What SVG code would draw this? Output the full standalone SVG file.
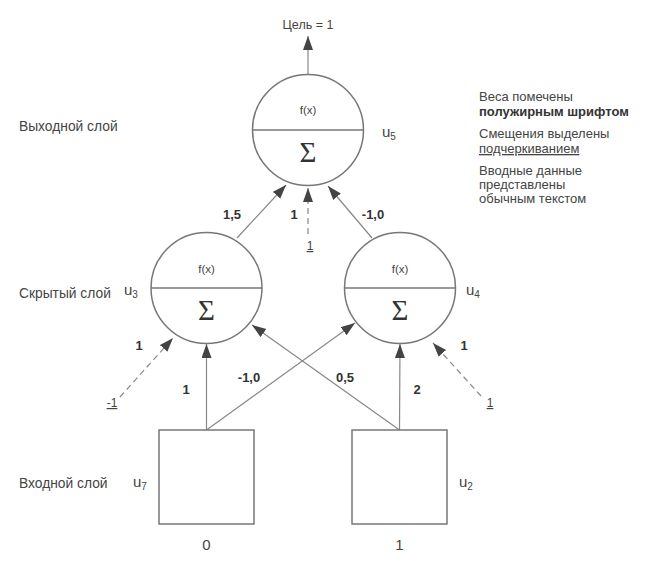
<svg xmlns="http://www.w3.org/2000/svg" width="647" height="563" viewBox="0 0 647 563">
<style>
text{font-family:"Liberation Sans",Arial,sans-serif;fill:#444}
.lbl{font-size:13px}
.ll{font-size:13.8px}
.w{font-size:13px;font-weight:bold;fill:#333}
.b{font-size:12px;text-decoration:underline}
.fx{font-size:11.5px}
.sig{font-family:"Liberation Serif","Times New Roman",serif;font-size:29px;fill:#333}
.u{font-size:15px}
.node{fill:#fff;stroke:#777;stroke-width:1.5}
.div{stroke:#777;stroke-width:1.5}
.c{stroke:#888;stroke-width:1.2;fill:none}
.d{stroke:#888;stroke-width:1.2;fill:none;stroke-dasharray:6,4}
</style>
<defs>
<marker id="ah" markerUnits="userSpaceOnUse" markerWidth="15" markerHeight="11" refX="14" refY="5" orient="auto">
<path d="M0,0 L14,5 L0,10 z" fill="#444"/>
</marker>
</defs>
<rect width="647" height="563" fill="#fff"/>
<g id="layer-labels">
<text class="ll" x="19" y="131">Выходной слой</text>
<text class="ll" x="19" y="298">Скрытый слой</text>
<text class="ll" x="19" y="488">Входной слой</text>
</g>
<g id="legend">
<text class="lbl" x="479" y="101">Веса помечены</text>
<text class="lbl" x="479" y="116" font-weight="bold" style="fill:#333">полужирным шрифтом</text>
<text class="lbl" x="479" y="138">Смещения выделены</text>
<text class="lbl" x="479" y="153" text-decoration="underline">подчеркиванием</text>
<text class="lbl" x="479" y="175">Вводные данные</text>
<text class="lbl" x="479" y="189">представлены</text>
<text class="lbl" x="479" y="203">обычным текстом</text>
</g>
<g id="connectors">
<line class="c" x1="308" y1="75" x2="308" y2="36" marker-end="url(#ah)"/>
<line class="c" x1="237" y1="238" x2="286" y2="185" marker-end="url(#ah)"/>
<line class="c" x1="372" y1="238" x2="328" y2="186" marker-end="url(#ah)"/>
<line class="d" x1="308" y1="234" x2="308" y2="188" marker-end="url(#ah)"/>
<line class="c" x1="206.5" y1="430" x2="206.5" y2="344" marker-end="url(#ah)"/>
<line class="c" x1="206.5" y1="430" x2="355" y2="323" marker-end="url(#ah)"/>
<line class="c" x1="399.5" y1="430" x2="252" y2="325" marker-end="url(#ah)"/>
<line class="c" x1="399.5" y1="430" x2="400" y2="344" marker-end="url(#ah)"/>
<line class="d" x1="120" y1="397" x2="173" y2="338" marker-end="url(#ah)"/>
<line class="d" x1="481" y1="396" x2="433" y2="343" marker-end="url(#ah)"/>
<text x="308" y="29" text-anchor="middle" font-size="12.5">Цель = 1</text>
<text class="w" x="232" y="219" text-anchor="middle">1,5</text>
<text class="w" x="294" y="219" text-anchor="middle">1</text>
<text class="w" x="373" y="219" text-anchor="middle">-1,0</text>
<text class="b" x="310" y="250" text-anchor="middle">1</text>
<text class="w" x="139" y="350" text-anchor="middle">1</text>
<text class="w" x="464" y="350" text-anchor="middle">1</text>
<text class="b" x="112" y="407" text-anchor="middle">-1</text>
<text class="b" x="490" y="407" text-anchor="middle">1</text>
<text class="w" x="186" y="394" text-anchor="middle">1</text>
<text class="w" x="249" y="382" text-anchor="middle">-1,0</text>
<text class="w" x="345" y="382" text-anchor="middle">0,5</text>
<text class="w" x="417" y="394" text-anchor="middle">2</text>
</g>
<g id="u5">
<circle class="node" cx="308" cy="130" r="55.5"/>
<line class="div" x1="252.5" y1="130" x2="363.5" y2="130"/>
<text class="fx" x="308" y="114" text-anchor="middle">f(x)</text>
<text class="sig" x="308" y="162" text-anchor="middle">Σ</text>
<text class="u" x="382" y="137">u<tspan font-size="10" dy="3">5</tspan></text>
</g>
<g id="u3">
<circle class="node" cx="206.5" cy="288" r="55.5"/>
<line class="div" x1="151" y1="288" x2="262" y2="288"/>
<text class="fx" x="206.5" y="273" text-anchor="middle">f(x)</text>
<text class="sig" x="206.5" y="320" text-anchor="middle">Σ</text>
<text class="u" x="124" y="295">u<tspan font-size="10" dy="3">3</tspan></text>
</g>
<g id="u4">
<circle class="node" cx="400" cy="288" r="55.5"/>
<line class="div" x1="344.5" y1="288" x2="455.5" y2="288"/>
<text class="fx" x="400" y="273" text-anchor="middle">f(x)</text>
<text class="sig" x="400" y="320" text-anchor="middle">Σ</text>
<text class="u" x="466" y="295">u<tspan font-size="10" dy="3">4</tspan></text>
</g>
<g id="u7">
<rect class="node" x="159" y="430" width="95" height="94"/>
<text class="u" x="133" y="487">u<tspan font-size="10" dy="3">7</tspan></text>
<text x="206.5" y="550" text-anchor="middle" font-size="15">0</text>
</g>
<g id="u2">
<rect class="node" x="352" y="430" width="95" height="94"/>
<text class="u" x="459" y="487">u<tspan font-size="10" dy="3">2</tspan></text>
<text x="399.5" y="550" text-anchor="middle" font-size="15">1</text>
</g>
</svg>
